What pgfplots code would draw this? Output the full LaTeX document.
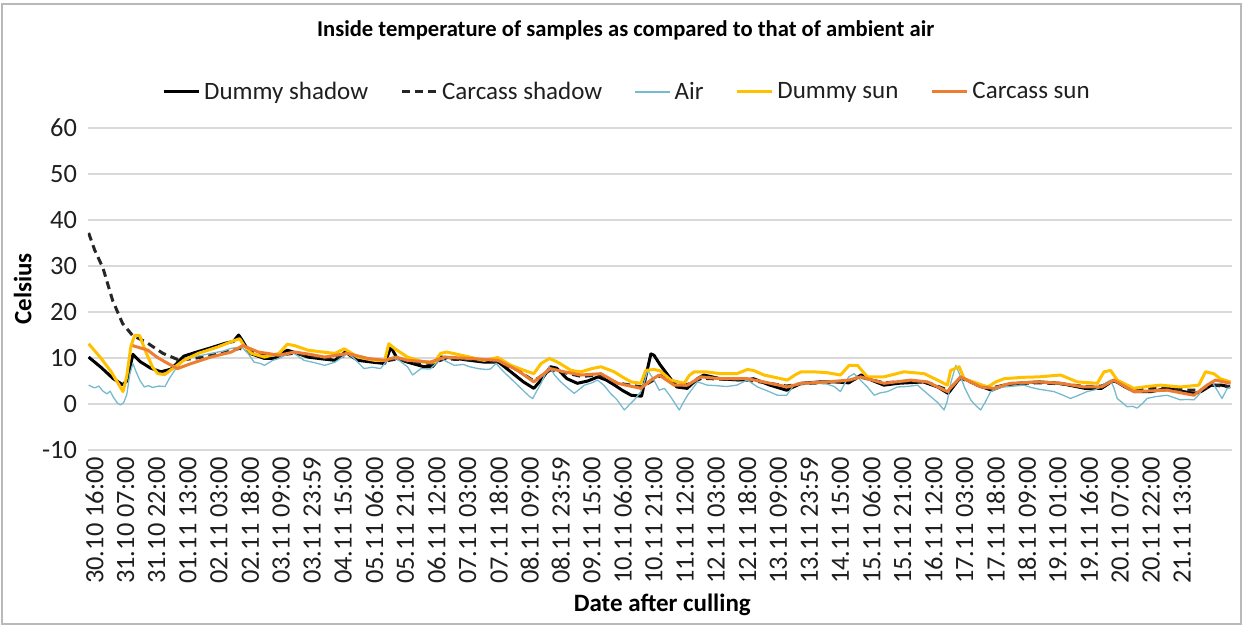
\documentclass[border=0pt]{standalone}
\usepackage{pgfplots}
\pgfplotsset{compat=1.18}
\usepackage{pgfplotstable}
\usepackage{fontspec}
\setmainfont{Carlito}
\definecolor{cair}{RGB}{118,186,206}
\definecolor{cyel}{RGB}{255,192,0}
\definecolor{cora}{RGB}{237,125,49}
\definecolor{cgrid}{RGB}{217,217,217}

\pgfplotstableread{
h v
-2.9 10.2
3 8
9 5.5
13.5 4.2
15.5 5
18.5 10.8
22 9.2
27 7.8
32 7
37 7.6
43 10.4
50 11.4
56 12.2
63 13.2
67 13.6
69.5 15
71 14
75 11
82 9.9
87 9.9
93 11.7
98 11
103 10.2
110 9.8
116 9.5
121 11.3
127 9.5
134 9.1
140 8.8
143 12.4
146 9.9
151 9.1
159 8.1
163 8.1
167 10.2
173 10
181 9.5
188 9.1
195 9.1
202 6.6
207 4.8
212 3.4
216 5.5
220 8.1
223 7.8
228 5.5
233 4.5
238 5.0
243 5.9
247 5.2
251 4.1
255 2.9
259 1.9
264 1.7
266 5.9
268.5 10.9
270 10.6
273 8.5
275 7.3
278 5.5
281 3.7
286 3.4
291 5.5
294 6.3
302 5.5
308 5.3
314 5.2
318 5.5
326 4.1
334 3.0
341 4.5
350 4.8
358 4.8
364 4.6
370 6.3
376 5.0
381 4.1
388 4.5
400 4.8
407 3.7
412 2.3
418 5.9
426 4.1
433 3.0
439 4.1
448 4.6
456 4.8
466 4.5
478 3.4
486 3.4
492 5.2
497 3.8
502 2.7
510 2.7
518 3.4
524 2.8
531 2.3
534 2.7
539 4.1
544 4.1
548 3.7
}\dummyshadow

\pgfplotstableread{
h v
-2.9 37.2
0 33.5
4 29.6
8.7 22.5
13.5 17.5
18.3 14.9
25 13.4
33 11
41 9.5
49 10
57 10.6
64 11.4
70 12.1
75 11.4
80 11
88 10.6
96 11
104 10.5
111 10
117 10.2
122 10.6
132 9.8
140 9.3
146 9.8
151 9.3
162 8.8
169 9.8
181 9.6
195 9.2
204 7.4
212 5
220 7.4
227 6.8
235 6
244 6.3
252 4.6
264 3.7
269 5
273 6.2
280 4.4
286 4.2
293 5.6
302 5.4
315 5.2
323 4.7
334 3.9
341 4.4
354 4.7
364 5.0
370 5.8
381 4.6
394 5.0
402 4.7
412 3.0
418 5.6
428 3.9
434 3.6
442 4.4
456 4.6
466 4.4
478 3.8
486 3.9
492 5.0
502 3.4
518 3.4
527 3.0
534 3.0
539 4.1
548 3.8
}\carcassshadow

\pgfplotstableread{
h v
-2.9 4.1
0 3.5
2 3.9
4 2.8
6 2.2
7.5 2.8
9 1.5
11 0.2
12.5 -0.2
14 0.3
15.5 2.0
17 6.5
18.5 8.8
20 7.0
22 5.0
24 3.7
26 4.0
28 3.6
31 3.9
34 3.8
36 5.5
38.6 7.3
43 9.5
48 10.3
52 10.6
56 11
62 11.5
66 12.1
71 12.4
74 11
77 9.1
80 8.8
82 8.4
86 9.5
89 9.9
95 11.3
98 10.5
101 9.5
106 9.0
111 8.4
116 9.1
119 10
122 11
125 10
127 9.1
130 7.7
134 8.0
138 7.7
142 9.9
146 9.8
151 8.1
153.5 6.3
157.5 7.7
162 7.6
167 9.9
170 9.2
173.6 8.4
178 8.6
181 8.1
185 7.7
189 7.5
191 7.6
193.8 8.8
197 7.2
201 5.5
204 4.2
207.4 2.7
210 1.6
211.5 1.2
213 2.5
215.5 4.5
217.5 6.5
219.5 8.1
222 6.3
225 4.8
228 3.6
231.5 2.3
234 3.2
236.4 4.1
240 4.6
242.8 5.2
246 4.0
249 2.3
252 1.0
255.7 -1.3
258 -0.2
260.5 0.9
263.7 2.7
265.5 5.0
267 7.3
270 5.2
272.5 3.0
275 3.4
278 1.6
282.2 -1.3
284 0.2
286.2 1.9
289 3.6
291 4.8
295.8 4.1
300 4.0
305 3.8
310 4.1
315 5.2
320 3.7
325 2.8
329.6 1.9
334 1.9
337.6 4.1
342 4.4
347.3 4.5
353 4.4
357 3.8
360 2.7
362 4.4
364 5.9
366.6 6.6
370 5.0
373 3.7
376.3 1.9
379 2.4
382.7 2.7
387.5 3.7
392 3.8
397.2 4.1
400 3.0
403.6 1.6
407 0.3
410 -1.3
411.5 0.5
413.2 4.5
415.7 8.4
418 5.9
420 3.5
422.9 0.9
425 -0.2
427.7 -1.3
430 0.5
432.5 2.7
436 3.4
439 3.7
444 3.9
448.6 4.1
452 3.6
456 3.2
459 3.0
463 2.7
467 2.0
471 1.2
475 1.9
479 2.7
483 3.1
485.6 3.7
488 4.6
490.4 5.2
492 3.5
493.6 1.2
496 0.3
498.4 -0.6
501 -0.5
503.2 -0.9
506 0.2
508 1.2
512 1.6
517.7 1.9
521 1.4
524.1 0.9
527 1.0
530.6 0.9
533 2.0
535.4 3.7
539.4 4.8
541.8 3.0
544.2 1.2
546.7 3.4
548.5 3.6
}\air

\pgfplotstableread{
h v
-2.9 13.1
3 10
8 7
13.7 2.7
15.5 6
17.5 12.5
19.3 14.9
21.7 14.9
25 11
28 8
30.5 6.6
33.8 6.4
38 7.8
43 9.5
50 11
59.5 12.4
67.5 13.8
70 14.2
72 12.8
75.6 11
82 10.2
89 11
93 13
96.5 12.7
103 11.7
110 11.3
116 11
120.5 12
122 11.6
127 10.2
135 9.5
140 9.5
142 13.1
145 12
151 10.2
159 9.1
164 9.1
167 11
170 11.3
181 10.2
188 9.5
194.6 10.1
201 8.4
207.4 7.3
212 6.6
215.5 8.8
219.5 9.9
223.5 9.1
230 7.3
234.8 7.0
240 7.7
244.4 8.1
250.8 7.0
255 5.8
259 4.8
263.7 4.5
266 7.3
268 7.4
270 7.5
273 7.2
278.1 5.2
284.6 4.5
287 6.2
289.4 7.0
295 7.0
302 6.6
310 6.6
315.1 7.5
318 7.3
323.1 6.3
334.4 5.2
338 6.3
341 7.0
347 7.0
353.7 6.8
360 6.3
362 7.3
364.2 8.4
368.2 8.4
373 5.9
381 5.9
390.7 7.0
400.4 6.6
406.8 5.2
411.6 4.1
413.2 7.3
417.3 8.1
419.7 5.5
426 4.5
431 3.7
435 4.8
439 5.5
448 5.8
455.9 5.9
466.3 6.3
474.3 4.8
484 4.5
487.2 7.0
490.4 7.3
493.6 5.2
501.6 3.4
508 3.8
514.5 4.1
524.1 3.7
533 4.1
536.2 7.0
540.2 6.6
543.4 5.5
548.3 4.8
}\dummysun

\pgfplotstableread{
h v
18.3 12.7
25.7 11.7
30 10.2
35.4 8.8
40 7.7
46.6 8.8
56 10.2
66 11.3
71.5 12.7
79 11.3
89 10.6
96.5 11.3
104 10.8
111 10.2
122 11
132 9.9
140 9.5
145.5 10.2
151 9.5
162 9.1
169 10.2
181 9.9
194.6 9.5
204.2 7.3
212 4.8
219.9 7.7
226.7 7.0
234.8 6.3
244.4 6.6
252.4 4.5
263.7 3.4
268.5 5.2
272.5 6.3
279.7 4.1
286.2 4.1
292.6 5.9
302 5.5
315 5.5
323 4.8
334.4 3.7
341 4.5
353.7 4.8
364 5.2
369.8 5.9
381 4.5
394 5.2
402 4.8
411.6 2.7
418 5.9
427.7 3.7
434 3.4
442 4.5
455.9 4.8
466.3 4.5
477.5 3.7
486 3.7
492 5.2
501.6 2.7
517.7 3.0
530.6 1.9
537 4.1
541 5.2
548.3 4.5
}\carcasssun

\begin{document}
\begin{tikzpicture}
\path[use as bounding box] (-44bp,-89bp) rectangle (578bp,225bp);
\draw[gray!55, line width=0.6bp] (-43bp,-87bp) rectangle (576.5bp,223bp);
\begin{axis}[
  at={(0,0)}, anchor=south west,
  scale only axis, width=572bp, height=161bp,
  xmin=-3.2, xmax=549, ymin=-10, ymax=60,
  ytick={-10,0,...,60},
  xtick={0,15,...,525},
  xticklabels={30.10 16:00,31.10 07:00,31.10 22:00,01.11 13:00,02.11 03:00,02.11 18:00,03.11 09:00,03.11 23:59,04.11 15:00,05.11 06:00,05.11 21:00,06.11 12:00,07.11 03:00,07.11 18:00,08.11 09:00,08.11 23:59,09.11 15:00,10.11 06:00,10.11 21:00,11.11 12:00,12.11 03:00,12.11 18:00,13.11 09:00,13.11 23:59,14.11 15:00,15.11 06:00,15.11 21:00,16.11 12:00,17.11 03:00,17.11 18:00,18.11 09:00,19.11 01:00,19.11 16:00,20.11 07:00,20.11 22:00,21.11 13:00},
  /pgf/number format/assume math mode=true,
  ymajorgrids, grid style={cgrid, line width=0.9bp},
  axis line style={draw=none},
  major tick length=0pt,
  tick label style={font=\fontsize{13.2bp}{15bp}\selectfont, text=black!88},
  xticklabel style={rotate=90, anchor=east},
  yticklabel style={xshift=-2bp},
  title={Inside temperature of samples as compared to that of ambient air},
  title style={at={(axis description cs:0.47,1.267)}, anchor=center, yshift=0pt, font=\bfseries\fontsize{11.3bp}{13bp}\selectfont},
  xlabel={Date after culling},
  xlabel style={at={(axis description cs:0.502,-0.481)}, anchor=center, font=\bfseries\fontsize{12.5bp}{15bp}\selectfont},
  ylabel={Celsius},
  ylabel style={at={(axis description cs:-0.057,0.5)}, anchor=center, font=\bfseries\fontsize{12.5bp}{15bp}\selectfont},
  legend columns=5,
  legend style={at={(axis description cs:0.472,1.112)}, anchor=center, draw=none, fill=none,
    font=\fontsize{12.5bp}{15bp}\selectfont, text=black!88,
    /tikz/every even column/.append style={column sep=14bp},
    inner sep=0pt},
  legend image code/.code={\draw[#1] (0bp,0bp) -- (17.5bp,0bp);},
]
\addplot[black, line width=1.5bp, line join=round] table[x=h,y=v] {\dummyshadow};
\addlegendentry{Dummy shadow}
\addplot[black!85, line width=1.5bp, dash pattern=on 4bp off 2.5bp] table[x=h,y=v] {\carcassshadow};
\addlegendentry{Carcass shadow}
\addplot[cair, line width=0.65bp, line join=round] table[x=h,y=v] {\air};
\addlegendentry{Air}
\addplot[cyel, line width=1.5bp, line join=round] table[x=h,y=v] {\dummysun};
\addlegendentry{Dummy sun}
\addplot[cora, line width=1.5bp, line join=round] table[x=h,y=v] {\carcasssun};
\addlegendentry{Carcass sun}
\end{axis}
\end{tikzpicture}
\end{document}
